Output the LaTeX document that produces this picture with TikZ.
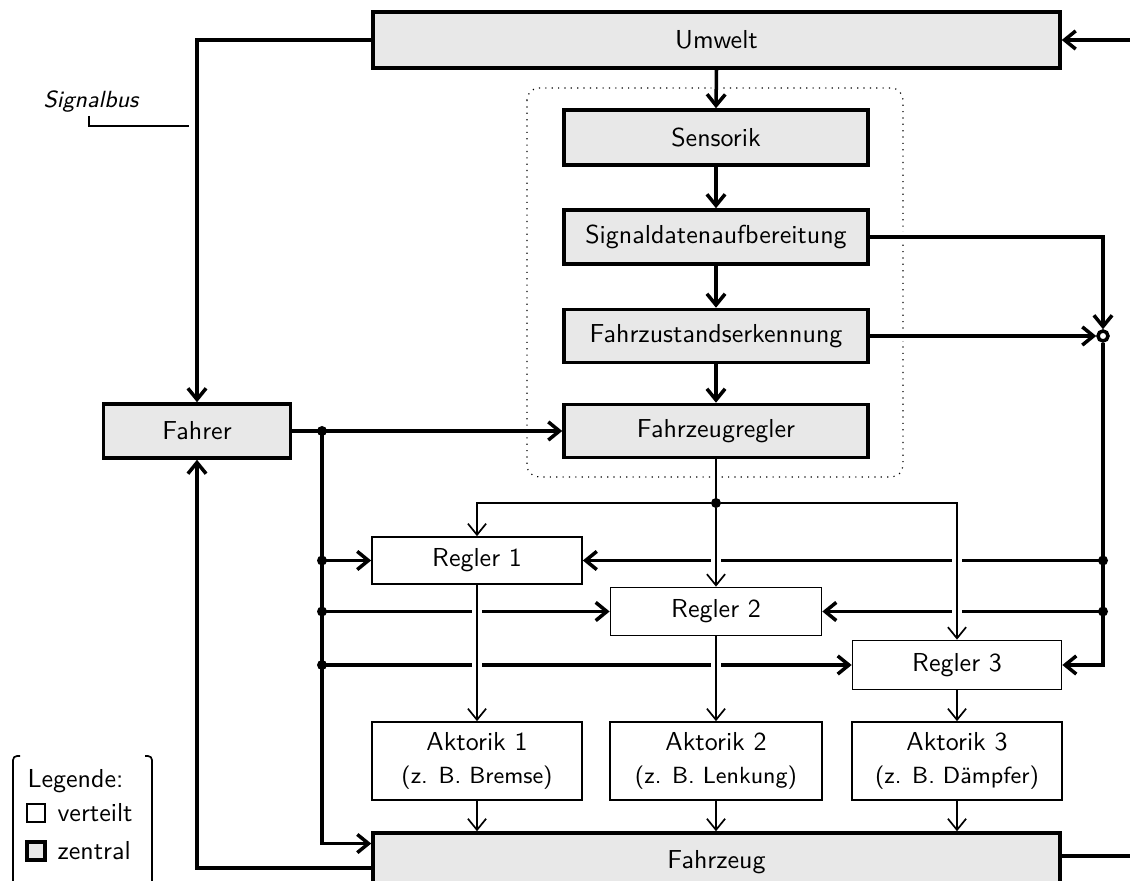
\documentclass[tikz,border=0pt]{standalone}
\usepackage{fontspec}
\renewcommand{\familydefault}{\sfdefault}
\usetikzlibrary{arrows.meta,calc}
\newdimen\pxu \pxu=0.385pt
\newdimen\thk \thk=1.35pt
\newdimen\thn \thn=0.65pt
\definecolor{boxgray}{RGB}{232,232,232}
\pgfdeclarelayer{wires}
\pgfsetlayers{wires,main}
\tikzset{
  central/.style={draw, line width=\thk, fill=boxgray, inner sep=0pt, align=center},
  local/.style={draw, line width=\thn, fill=white, inner sep=0pt, align=center},
  box/.style 2 args={minimum width=#1*\pxu, minimum height=#2*\pxu},
  wire/.style={line width=\thk},
  fine/.style={line width=\thn},
  tip/.style={-{Straight Barb[length=4.3pt,width=7pt]}},
  halo/.style={preaction={draw=white, line width=10*\pxu, -}},
  dot/.style={fill=black},
  plain/.style={inner sep=0pt},
}
\begin{document}
\begin{tikzpicture}[x=0.385pt, y=-0.385pt]
\useasboundingbox (0,0) rectangle (1130,881);

% blocks
\node[central, box={687}{56}] (umwelt) at (716.5,40) {Umwelt};
\node[central, box={304}{55}] (sens) at (716,137.5) {Sensorik};
\node[central, box={304}{54}] (sig) at (716,237) {Signaldatenaufbereitung};
\node[central, box={304}{53}] (fzs) at (716,336) {Fahrzustandserkennung};
\node[central, box={304}{53}] (fzr) at (716,431) {Fahrzeugregler};
\node[central, box={187}{54}] (fahrer) at (197,431) {Fahrer};
\node[local, box={210}{47}] (regler1) at (477,560.5) {Regler 1};
\node[local, box={211}{48}] (regler2) at (716,611.5) {Regler 2};
\node[local, box={209}{49}] (regler3) at (957,665) {Regler 3};
\node[local, box={210}{78}] (akt1) at (477,761) {Aktorik 1\\[1pt]{\small (z. B. Bremse)}};
\node[local, box={212}{78}] (akt2) at (716,761) {Aktorik 2\\[1pt]{\small (z. B. Lenkung)}};
\node[local, box={210}{78}] (akt3) at (957,761) {Aktorik 3\\[1pt]{\small (z. B. Dämpfer)}};
\node[central, box={687}{58}] (fahrzeug) at (716.5,862) {Fahrzeug};
\node[draw, circle, line width=\thk, fill=white, inner sep=0pt, minimum size=10*\pxu] (circ) at (1103,336) {};

% signal bus label
\node[plain, font=\small\itshape] (sbus) at (91,102) {Signalbus};
\coordinate (sbtick) at (89,116);
\coordinate (sbend) at (189,126);

% legend
\node[plain, anchor=west] (legtitle) at (27,781) {Legende:};
\node[local, minimum size=18*\pxu] (legd) at (36,813) {};
\node[plain, anchor=west] (legdt) at (57,813) {verteilt};
\node[central, minimum size=18*\pxu] (legz) at (36,851) {};
\node[plain, anchor=west] (legzt) at (57,851) {zentral};

% junctions and free ends
\coordinate (dist) at (716,503);
\coordinate (j1) at (1103,560.5);
\coordinate (j2) at (1103,611.5);
\coordinate (d0) at (322,431);
\coordinate (d1) at (322,560.5);
\coordinate (d2) at (322,611.5);
\coordinate (d3) at (322,665);
\coordinate (eastU) at (1140,40);
\coordinate (fzin) at ($(fahrzeug.north west)!0.2!(fahrzeug.south west)$);
\coordinate (fzret) at ($(fahrzeug.north west)!0.6!(fahrzeug.south west)$);
\coordinate (fzo) at ($(fahrzeug.north east)!0.4!(fahrzeug.south east)$);
\coordinate (eastF) at (1140,0 |- fzo);

\begin{pgfonlayer}{wires}
  % central processing chain frame
  \draw[line width=0.45pt, dotted, rounded corners=12*\pxu] (527,88) rectangle (903,477);

  % signal bus label leader
  \draw[fine] (sbtick) |- (sbend);

  % legend bracket
  \draw[fine, rounded corners=4*\pxu] (20,756) -- (13,756) -- (13,895);
  \draw[fine, rounded corners=4*\pxu] (145,756) -- (152,756) -- (152,895);

  % environment and driver loop
  \draw[wire, tip] (eastU) -- (umwelt.east);
  \draw[wire, tip] (umwelt.west) -| (fahrer.north);
  \draw[wire, tip] (fzret) -| (fahrer.south);
  \draw[wire] (fzo) -- (eastF);

  % central chain
  \draw[wire, tip, halo] (umwelt.south) -- (sens.north);
  \draw[wire, tip] (sens.south) -- (sig.north);
  \draw[wire, tip] (sig.south) -- (fzs.north);
  \draw[wire, tip] (fzs.south) -- (fzr.north);
  \draw[wire, tip, halo] (sig.east) -| (circ.north);
  \draw[wire, tip, halo] (fzs.east) -- (circ.west);
  \draw[wire, tip, halo] (fahrer.east) -- (fzr.west);

  % driver bus
  \draw[wire, tip] (d0) |- (fzin);
  \draw[wire, tip] (d1) -- (regler1.west);
  \draw[wire, tip] (d2) -- (regler2.west);
  \draw[wire, tip] (d3) -- (regler3.west);

  % state bus
  \draw[wire] (circ.south) -- (j2);
  \draw[wire, tip] (j1) -- (regler1.east);
  \draw[wire, tip] (j2) -- (regler2.east);
  \draw[wire, tip] (j2) |- (regler3.east);

  % distribution of the vehicle controller output
  \draw[fine, tip, halo] (dist) -- (regler2.north);
  \draw[fine, tip, halo] (dist) -| (regler3.north);
  \draw[fine, tip] (dist) -| (regler1.north);
  \draw[fine, halo] (fzr.south) -- (dist);

  % controllers to actuators to vehicle
  \draw[fine, tip, halo] (regler1.south) -- (akt1.north);
  \draw[fine, tip, halo] (regler2.south) -- (akt2.north);
  \draw[fine, tip] (regler3.south) -- (akt3.north);
  \draw[fine, tip] (akt1.south) -- (akt1.south |- fahrzeug.north);
  \draw[fine, tip] (akt2.south) -- (akt2.south |- fahrzeug.north);
  \draw[fine, tip] (akt3.south) -- (akt3.south |- fahrzeug.north);

  % junction dots
  \foreach \p in {dist,j1,j2,d0,d1,d2,d3}
    \fill[dot] (\p) circle[radius=5*\pxu];
\end{pgfonlayer}
\end{tikzpicture}
\end{document}
